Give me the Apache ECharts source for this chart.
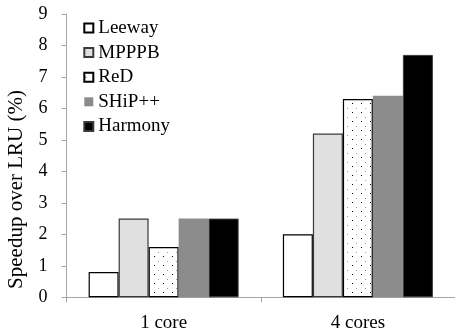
<!DOCTYPE html>
<html>
<head>
<meta charset="utf-8">
<script src="https://cdn.jsdelivr.net/npm/echarts@6/dist/echarts.min.js"></script>
<style>
  html, body { margin: 0; padding: 0; background: #fff; }
  #chart { width: 455px; height: 335px; }
</style>
</head>
<body>
<div id="chart"></div>
<script>
// Speedup over LRU per replacement policy
var categories = ['1 core', '4 cores'];
var seriesNames = ['Leeway', 'MPPPB', 'ReD', 'SHiP++', 'Harmony'];
var leeway  = [0.8, 2.0];
var mpppb   = [2.5, 5.2];
var red     = [1.6, 6.3];
var shippp  = [2.5, 6.4];
var harmony = [2.5, 7.7];
var yTicks = [0, 1, 2, 3, 4, 5, 6, 7, 8, 9];

var FONT = "'Liberation Serif', 'Times New Roman', serif";

// Dotted fill tile: black dots and grey dots on a staggered grid
function dotTile() {
  var c = document.createElement('canvas');
  c.width = 9; c.height = 9;
  var g = c.getContext('2d');
  g.fillStyle = '#ffffff';
  g.fillRect(0, 0, 9, 9);
  g.fillStyle = '#000000';
  g.fillRect(1, 4, 1, 1);
  g.fillStyle = '#9a9a9a';
  g.fillRect(5, 0, 1, 1);
  return c;
}

var styles = [
  { color: '#ffffff', borderColor: '#000000', borderWidth: 1.2 },
  { color: '#e0e0e0', borderColor: '#3a3a3a', borderWidth: 1.2 },
  { color: { image: dotTile(), repeat: 'repeat' }, borderColor: '#000000', borderWidth: 1.2 },
  { color: '#8c8c8c', borderColor: '#8c8c8c', borderWidth: 0 },
  { color: '#000000', borderColor: '#3a3a3a', borderWidth: 1 }
];
var values = [leeway, mpppb, red, shippp, harmony];

var series = seriesNames.map(function (name, i) {
  return {
    name: name,
    type: 'bar',
    data: values[i],
    barWidth: 30,
    barGap: '0%',
    itemStyle: styles[i],
    emphasis: { disabled: true },
    animation: false
  };
});

var chart = echarts.init(document.getElementById('chart'), null, { renderer: 'canvas' });
chart.setOption({
  animation: false,
  textStyle: { fontFamily: FONT },
  grid: { left: 66.5, top: 14, right: -3, bottom: 37.7 },
  legend: {
    orient: 'vertical',
    left: 78.3,
    top: 13.5,
    icon: 'rect',
    itemWidth: 9,
    itemHeight: 9,
    itemGap: 5.6,
    selectedMode: false,
    textStyle: { fontFamily: FONT, fontSize: 19, color: '#000' },
    data: seriesNames
  },
  xAxis: {
    type: 'category',
    data: categories,
    axisLine: { lineStyle: { color: '#a6a6a6', width: 1 } },
    axisTick: { show: true, length: 5, alignWithLabel: false, lineStyle: { color: '#a6a6a6' } },
    axisLabel: { fontFamily: FONT, fontSize: 19, color: '#000', margin: 16 }
  },
  yAxis: {
    type: 'value',
    min: yTicks[0],
    max: yTicks[yTicks.length - 1],
    interval: 1,
    splitLine: { show: false },
    axisLine: { show: true, lineStyle: { color: '#a6a6a6', width: 1 } },
    axisTick: { show: true, length: 5, lineStyle: { color: '#a6a6a6' } },
    axisLabel: { fontFamily: FONT, fontSize: 18, color: '#000', margin: 19 }
  },
  graphic: [{
    type: 'text',
    x: 6,
    y: 189.5,
    rotation: Math.PI / 2,
    style: {
      text: 'Speedup over LRU (%)',
      fontFamily: FONT,
      fontSize: 21,
      fill: '#000',
      align: 'center',
      verticalAlign: 'top'
    }
  }],
  series: series
});
</script>
</body>
</html>
